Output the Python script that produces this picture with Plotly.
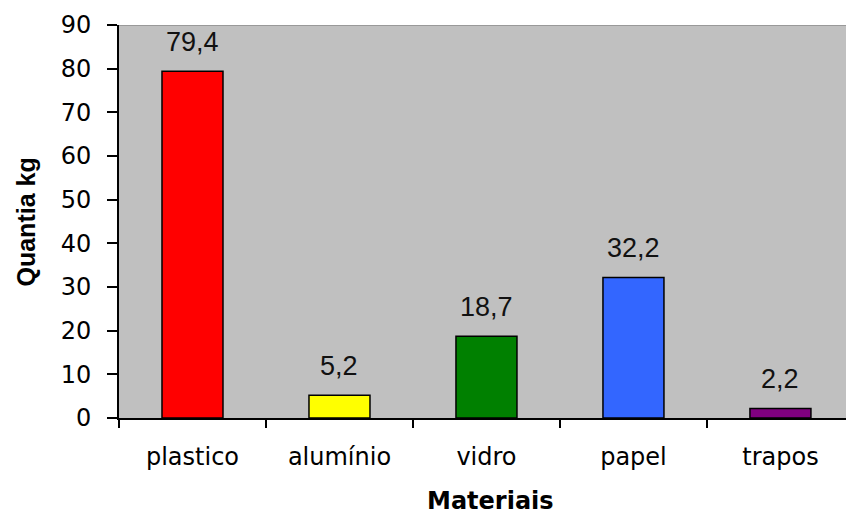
import plotly.graph_objects as go

categorias = ["plastico", "alumínio", "vidro", "papel", "trapos"]
quantias = [79.4, 5.2, 18.7, 32.2, 2.2]
rotulos = ["79,4", "5,2", "18,7", "32,2", "2,2"]
cores = ["#FF0000", "#FFFF00", "#008000", "#3366FF", "#800080"]
y_ticks = [0, 10, 20, 30, 40, 50, 60, 70, 80, 90]

fig = go.Figure()
fig.add_trace(go.Bar(
    x=categorias, y=quantias,
    marker=dict(color=cores, line=dict(color="black", width=1.5)),
    width=0.415,
    hoverinfo="skip",
))

for c, v, t in zip(categorias, quantias, rotulos):
    fig.add_annotation(x=c, y=v, text=t, showarrow=False, yanchor="bottom",
                       yshift=12, font=dict(family="Liberation Sans", size=27, color="#111111"))

fig.add_annotation(text="<b>Quantia kg</b>", textangle=-90, showarrow=False,
                   xref="paper", x=0, xshift=-94, xanchor="center",
                   yref="paper", y=0.5, yshift=-1, yanchor="middle",
                   font=dict(family="Liberation Sans", size=25, color="black"))
fig.add_annotation(text="<b>Materiais</b>", showarrow=False,
                   xref="x", x=2, xshift=4, yref="paper", y=0, yshift=-83,
                   yanchor="middle", xanchor="center",
                   font=dict(family="DejaVu Sans", size=24, color="black"))

fig.add_shape(type="line", xref="paper", x0=0, x1=1, yref="y", y0=90, y1=90,
              line=dict(color="#999999", width=2))

fig.update_layout(
    width=846, height=514,
    margin=dict(l=119, r=0, t=25, b=96),
    paper_bgcolor="white", plot_bgcolor="#C0C0C0",
    showlegend=False,
    font=dict(family="DejaVu Sans", color="black"),
)
fig.update_xaxes(
    type="category", range=[-0.5, 4.446],
    tickson="boundaries", ticks="outside", ticklen=8, tickwidth=2, tickcolor="black",
    showline=True, linecolor="black", linewidth=2,
    showgrid=False, zeroline=False,
    tickfont=dict(family="DejaVu Sans", size=24, color="black"),
    ticklabelstandoff=16,
)
fig.update_yaxes(
    range=[0, 90], tickvals=y_ticks, ticktext=[str(v) for v in y_ticks],
    ticks="outside", ticklen=10, tickwidth=2, tickcolor="black",
    showline=True, linecolor="black", linewidth=2,
    showgrid=False, zeroline=False,
    tickfont=dict(family="DejaVu Sans", size=24, color="black"),
    ticklabelstandoff=11,
)

fig.write_html("out.html")
